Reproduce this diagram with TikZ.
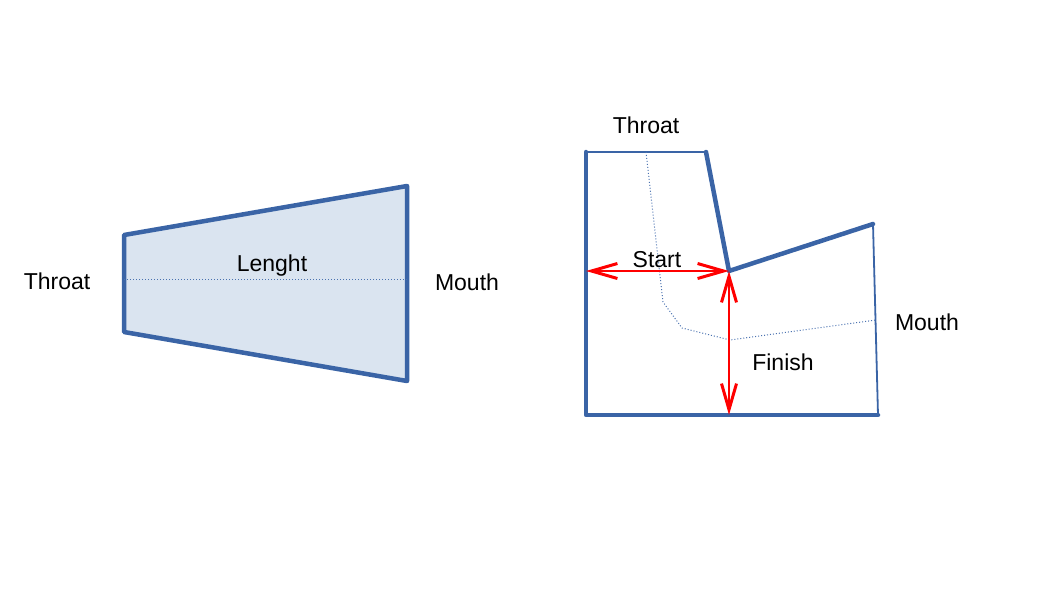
\documentclass[tikz,border=0pt]{standalone}
\usepackage{fontspec}
\setmainfont{Liberation Sans}
\usetikzlibrary{arrows.meta}
\definecolor{edge}{HTML}{3A64A6}
\definecolor{fillb}{HTML}{DAE4F0}
\definecolor{dotb}{HTML}{4A72B0}
\begin{document}
\begin{tikzpicture}[x=1pt,y=-1pt,
  thickedge/.style={draw=edge,line width=4.5pt,line join=round,line cap=round},
  thinedge/.style={draw=edge,line width=1.8pt},
  dotline/.style={draw=dotb,line width=1pt,dotted},
  lbl/.style={font=\fontsize{23}{26}\selectfont,inner sep=0pt},
  barb/.tip={Straight Barb[length=26pt,width=15pt,line width=3pt,color=red]},
  dim/.style={draw=red,line width=1.4pt,barb-barb}]
\useasboundingbox (0,0) rectangle (1058,595);
% left horn
\coordinate (a1) at (124,235);
\coordinate (a2) at (407,186);
\coordinate (a3) at (407,381);
\coordinate (a4) at (124,332);
\fill[fillb] (a1) -- (a2) -- (a3) -- (a4) -- cycle;
\draw[thickedge] (a1) -- (a2) -- (a3) -- (a4) -- cycle;
\coordinate (l1) at (124,279);
\coordinate (l2) at (407,279);
\draw[dotline] (l1) -- (l2);
\node[lbl] (lenght) at (272,266) {Lenght};
\node[lbl] (throatL) at (57,281) {Throat};
\node[lbl] (mouthL) at (467,282) {Mouth};
% right horn
\coordinate (b1) at (586,152);
\coordinate (b2) at (706,152);
\coordinate (b3) at (729,271);
\coordinate (b4) at (873,224);
\coordinate (b5) at (878,415);
\coordinate (b6) at (586,415);
\coordinate (b7) at (729,415);
\coordinate (b8) at (586,271);
\draw[thinedge] (b1) -- (b2);
\draw[thickedge] (b2) -- (b3) -- (b4);
\draw[thinedge] (b4) -- (b5);
\draw[thickedge] (b5) -- (b6) -- (b1);
\draw[dotline] (646,152) -- (663,302) -- (682,328) -- (730,340) -- (876,320);
\draw[dim] (b8) -- (b3);
\draw[dim] (b3) -- (b7);
\node[lbl] (throatR) at (646,125) {Throat};
\node[lbl] (start) at (657,260) {Start};
\node[lbl] (finish) at (783,362) {Finish};
\node[lbl] (mouthR) at (927,322) {Mouth};
\end{tikzpicture}
\end{document}
